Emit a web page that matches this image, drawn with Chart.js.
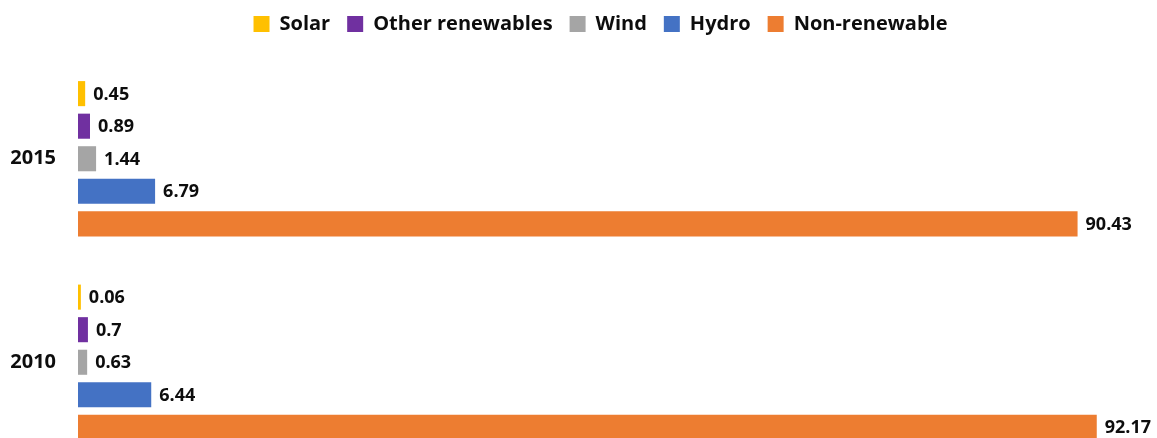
<!DOCTYPE html>
<html>
<head>
<meta charset="utf-8">
<script src="https://cdn.jsdelivr.net/npm/chart.js@4.4.1/dist/chart.umd.min.js"></script>
<style>
  html, body { margin: 0; padding: 0; background: #fff; overflow: hidden; }
  canvas { display: block; }
</style>
</head>
<body>
<canvas id="energyChart" width="1157" height="438"></canvas>
<script>
// Share of electricity generation (%)
var years = ['2015', '2010'];
var solar = [0.45, 0.06];
var otherRenewables = [0.89, 0.7];
var wind = [1.44, 0.63];
var hydro = [6.79, 6.44];
var nonRenewable = [90.43, 92.17];

var seriesNames = ['Solar', 'Other renewables', 'Wind', 'Hydro', 'Non-renewable'];
var seriesColors = ['#FFC000', '#7030A0', '#A5A5A5', '#4472C4', '#ED7D31'];
var seriesValues = [solar, otherRenewables, wind, hydro, nonRenewable];

var fontFamily = '"Open Sans", "Liberation Sans", sans-serif';

// draws the value at the end of each bar
var valueLabels = {
  id: 'valueLabels',
  afterDatasetsDraw: function (chart) {
    var ctx = chart.ctx;
    ctx.save();
    ctx.font = 'bold 18px ' + fontFamily;
    ctx.fillStyle = '#0d0d0d';
    ctx.textAlign = 'left';
    ctx.textBaseline = 'middle';
    chart.data.datasets.forEach(function (ds, i) {
      var meta = chart.getDatasetMeta(i);
      meta.data.forEach(function (bar, j) {
        ctx.fillText(String(ds.data[j]), bar.x + 8, bar.y + 1);
      });
    });
    ctx.restore();
  }
};

// fixed legend height so the plot area lines up, legend nudged right
var legendTweaks = {
  id: 'legendTweaks',
  beforeInit: function (chart) {
    var legend = chart.legend;
    var origFit = legend.fit;
    var origDraw = legend.draw;
    legend.fit = function () {
      origFit.apply(legend, arguments);
      legend.height = 60;
    };
    legend.draw = function () {
      var c = chart.ctx;
      c.save();
      c.translate(31, 0);
      origDraw.apply(legend, arguments);
      c.restore();
    };
  }
};

// the original picture is cropped: the plot runs past the lower edge
var plotOverflow = {
  id: 'plotOverflow',
  afterLayout: function (chart) {
    var bottom = 464;
    var y = chart.scales.y;
    y.bottom = bottom;
    y.height = bottom - y.top;
    y.configure();
    chart.chartArea.bottom = bottom;
    chart.chartArea.height = bottom - chart.chartArea.top;
  }
};

var datasets = seriesNames.map(function (name, i) {
  return {
    label: name,
    data: seriesValues[i],
    backgroundColor: seriesColors[i],
    borderWidth: 0,
    base: -0.2,
    categoryPercentage: 0.8,
    barPercentage: 0.77
  };
});

var ctx = document.getElementById('energyChart').getContext('2d');
var chart = new Chart(ctx, {
  type: 'bar',
  data: {
    labels: years,
    datasets: datasets
  },
  plugins: [valueLabels, legendTweaks, plotOverflow],
  options: {
    indexAxis: 'y',
    responsive: false,
    animation: false,
    layout: {
      padding: { top: -3, right: 18, bottom: 0, left: 0 }
    },
    plugins: {
      legend: {
        position: 'top',
        labels: {
          color: '#0d0d0d',
          boxWidth: 16,
          boxHeight: 16,
          padding: 17,
          font: { family: fontFamily, size: 20, weight: 'bold' }
        }
      },
      tooltip: { enabled: false }
    },
    scales: {
      x: {
        display: false,
        min: -0.2,
        max: 96
      },
      y: {
        grid: { display: false, drawTicks: false },
        border: { display: false },
        afterFit: function (scale) { scale.width = 78; },
        ticks: {
          color: '#0d0d0d',
          padding: 22,
          font: { family: fontFamily, size: 20, weight: 'bold' }
        }
      }
    }
  }
});
</script>
</body>
</html>
